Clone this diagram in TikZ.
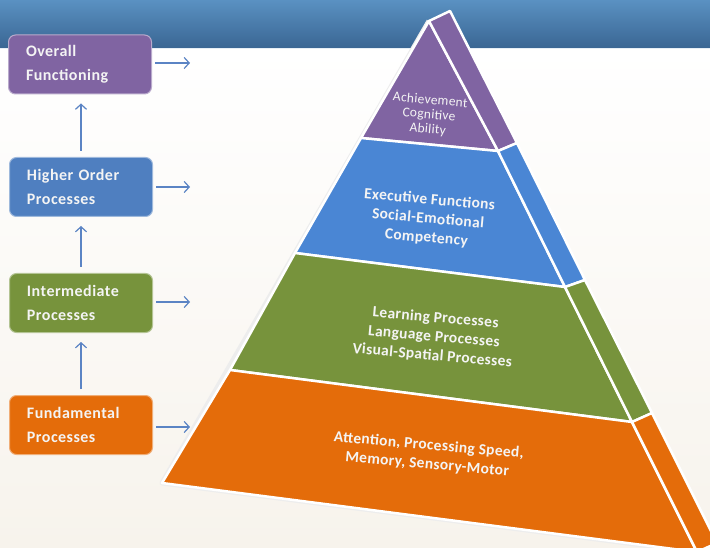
\documentclass[tikz,border=0pt]{standalone}
\usepackage{fontspec}
\setmainfont{Carlito}
\newfontfamily\boxfont[LetterSpace=3]{Carlito}
\newfontfamily\pyrfont[LetterSpace=2]{Carlito}
\usetikzlibrary{arrows.meta,shapes.misc}
\definecolor{pur}{HTML}{8064A2}
\definecolor{pblue}{HTML}{4A86D4}
\definecolor{bblue}{HTML}{4F7FC0}
\definecolor{grn}{HTML}{77933C}
\definecolor{org}{HTML}{E46C0A}
\definecolor{hdA}{HTML}{5A91C2}
\definecolor{hdM}{HTML}{5088BA}
\definecolor{hdB}{HTML}{3A6693}
\definecolor{bgB}{HTML}{F7F3EC}
\definecolor{arr}{HTML}{5B84C4}
\definecolor{txt}{HTML}{F4F4F4}
\tikzset{
  lbox/.style={rounded corners=7pt, fill=#1, draw=#1!55!white, line width=1pt,
    minimum width=143pt, minimum height=59pt, inner xsep=17pt, text width=108pt,
    align=left, text=txt, font=\boxfont\bfseries\fontsize{16}{24}\selectfont},
  tier/.style={fill=#1, draw=white, line width=2.5pt, line join=round},
  ptext/.style={text=txt, align=center, rotate=-5, font=\pyrfont\bfseries\fontsize{15.5}{19}\selectfont},
  uparr/.style={draw=arr, line width=1.2pt, -{Straight Barb[length=5pt,width=11pt]}},
}
\begin{document}
\begin{tikzpicture}[x=1pt,y=-1pt]
\useasboundingbox (0,0) rectangle (710,548);
% background
\shade[top color=white, bottom color=bgB] (0,48) rectangle (710,548);
\shade[top color=hdA, middle color=hdM, bottom color=hdB] (0,0) rectangle (710,48);
\draw[white!85!hdA, line width=1pt] (0,49) -- (710,49);
% pyramid points
\coordinate (A) at (429,21);
\coordinate (T) at (450,11);
\coordinate (L1) at (361,138); \coordinate (R1) at (498,151); \coordinate (S1) at (517,143);
\coordinate (L2) at (295,253); \coordinate (R2) at (565,287); \coordinate (S2) at (585,280);
\coordinate (L3) at (230,370); \coordinate (R3) at (632,422); \coordinate (S3) at (652,413);
\coordinate (L4) at (162,483); \coordinate (R4) at (697,552); \coordinate (S4) at (717,543);
% shadow
\draw[black!7, line width=5pt, line join=round] (A) -- (L4) -- (R4);
% front face
\draw[tier=pur] (A) -- (L1) -- (R1) -- cycle;
\draw[tier=pblue] (L1) -- (L2) -- (R2) -- (R1) -- cycle;
\draw[tier=grn] (L2) -- (L3) -- (R3) -- (R2) -- cycle;
\draw[tier=org] (L3) -- (L4) -- (R4) -- (R3) -- cycle;
% side face
\draw[tier=pur] (A) -- (T) -- (S1) -- (R1) -- cycle;
\draw[tier=pblue] (R1) -- (S1) -- (S2) -- (R2) -- cycle;
\draw[tier=grn] (R2) -- (S2) -- (S3) -- (R3) -- cycle;
\draw[tier=org] (R3) -- (S3) -- (S4) -- (R4) -- cycle;
% pyramid texts
\node[ptext, font=\pyrfont\fontsize{13.5}{14.5}\selectfont] (t1) at (429,115) {Achievement\\Cognitive\\Ability};
\node[ptext] (t2) at (428,219) {Executive Functions\\Social-Emotional\\Competency};
\node[ptext] (t3) at (434,337) {Learning Processes\\Language Processes\\Visual-Spatial Processes};
\node[ptext] (t4) at (428,455) {Attention, Processing Speed,\\Memory, Sensory-Motor};
% left boxes
\node[lbox=pur] (b1) at (80,64.5) {Overall\\Functioning};
\node[lbox=bblue] (b2) at (81,187) {Higher Order\\Processes};
\node[lbox=grn] (b3) at (81,303) {Intermediate\\Processes};
\node[lbox=org] (b4) at (81,425) {Fundamental\\Processes};
% arrow ends
\coordinate (e1) at (190,63);
\coordinate (e2) at (190,187);
\coordinate (e3) at (190,302);
\coordinate (e4) at (190,427);
\draw[uparr, shorten <=6pt, shorten >=9pt] (b2.north) -- (b1.south -| b2.north);
\draw[uparr, shorten <=6pt, shorten >=9pt] (b3.north) -- (b2.south);
\draw[uparr, shorten <=6pt, shorten >=9pt] (b4.north) -- (b3.south);
\draw[uparr, shorten <=3pt] (b1.east |- e1) -- (e1);
\draw[uparr, shorten <=3pt] (b2.east |- e2) -- (e2);
\draw[uparr, shorten <=3pt] (b3.east |- e3) -- (e3);
\draw[uparr, shorten <=3pt] (b4.east |- e4) -- (e4);
\end{tikzpicture}
\end{document}
